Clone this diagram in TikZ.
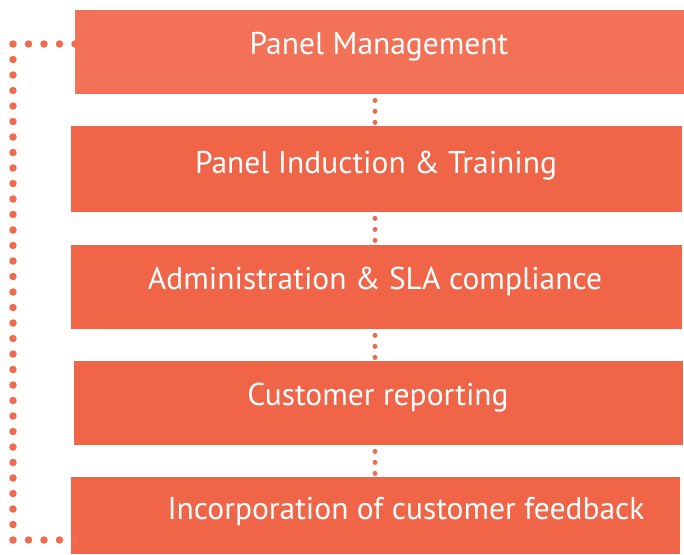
\documentclass[tikz,border=0pt]{standalone}
\usepackage{fontspec}
\setmainfont{PT Sans}
\definecolor{boxA}{HTML}{F37156}
\definecolor{boxB}{HTML}{F06548}
\definecolor{dotc}{HTML}{F06A50}
\begin{document}
\begin{tikzpicture}[x=1pt,y=-1pt,
  stepbox/.style={fill=boxB,draw=none,inner sep=0pt,anchor=north west},
  lbl/.style={text=white,font=\fontsize{31.5}{36}\selectfont,anchor=base,inner sep=0pt},
  vdots/.style={dotc,line width=5pt,line cap=round,dash pattern=on 0pt off 11pt,dash phase=5pt},
  loopdots/.style={dotc,line width=7.5pt,line cap=round,dash pattern=on 0pt off 15.5pt}]
\useasboundingbox (0,0) rectangle (684,554);
% boxes
\node[stepbox,fill=boxA,minimum width=609pt,minimum height=84pt] (b1) at (75,10) {};
\node[stepbox,minimum width=611pt,minimum height=86pt] (b2) at (71,126) {};
\node[stepbox,minimum width=611pt,minimum height=84pt] (b3) at (71,245) {};
\node[stepbox,minimum width=609pt,minimum height=84pt] (b4) at (74,361) {};
\node[stepbox,minimum width=609pt,minimum height=77pt] (b5) at (71,477) {};
% labels
\node[lbl] (t1) at (379,54.3) {Panel Management};
\node[lbl] (t2) at (376,173) {Panel Induction \& Training};
\node[lbl] (t3) at (375,289) {Administration \& SLA compliance};
\node[lbl] (t4) at (378,405) {Customer reporting};
\node[lbl] (t5) at (406,519) {Incorporation of customer feedback};
% vertical dotted connectors
\coordinate (dx) at (375,0);
\draw[vdots] (b1.south -| dx) -- (b2.north -| dx);
\draw[vdots] (b2.south -| dx) -- (b3.north -| dx);
\draw[vdots] (b3.south -| dx) -- (b4.north -| dx);
\draw[vdots] (b4.south -| dx) -- (b5.north -| dx);
% feedback loop
\coordinate (ls) at (75,44);
\coordinate (le) at (75,540);
\draw[loopdots] (ls) -- (13,44) -- (13,540) -- (le);
\end{tikzpicture}
\end{document}
